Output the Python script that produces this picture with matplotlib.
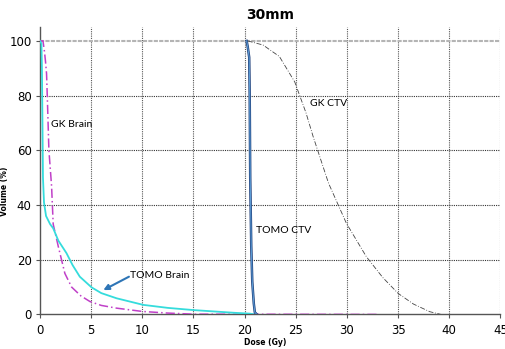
import matplotlib
matplotlib.use("Agg")
import matplotlib.pyplot as plt

# DVH data (dose in Gy, volume in %)
tomo_brain_dose = [0.0, 0.15, 0.2, 0.25, 0.3, 0.4, 0.6, 1.0, 1.3, 1.8, 2.6, 3.2, 3.9, 5.05, 6.0, 7.5, 10.1, 12.5, 15.0, 17.0, 19.0, 20.5, 21.0]
tomo_brain_vol = [100, 99, 90, 70, 50, 41, 36, 33, 31.5, 27, 22.4, 18, 13.8, 9.9, 7.8, 5.9, 3.5, 2.4, 1.6, 1.1, 0.6, 0.3, 0.0]

gk_brain_dose = [0.0, 0.3, 0.45, 0.55, 0.65, 0.72, 0.88, 1.14, 1.3, 1.8, 2.44, 3.1, 4.0, 4.9, 6.0, 7.5, 10.0, 12.5, 15.0, 33.0]
gk_brain_vol = [100, 100, 96, 92.4, 88, 80, 60, 47, 33, 24.8, 15, 10, 6.8, 4.7, 3.3, 2.3, 1.1, 0.5, 0.1, 0.0]

tomo_ctv_dose = [20.2, 20.3, 20.45, 20.5, 20.55, 20.65, 20.75, 20.9, 21.0, 21.2]
tomo_ctv_vol = [100, 98, 94, 80, 50, 25, 12, 4, 0.8, 0.0]

gk_ctv_dose = [20.3, 21.8, 23.4, 24.9, 26.0, 26.7, 28.2, 29.95, 31.9, 33.5, 35.0, 36.5, 38.1, 39.2]
gk_ctv_vol = [100, 98.5, 94.3, 85, 73.7, 65, 48, 33.3, 21.1, 13.5, 7.7, 3.8, 1.0, 0.0]

x_ticks = list(range(0, 50, 5))
y_ticks = list(range(0, 120, 20))

fig = plt.figure(figsize=(5.05, 3.49), dpi=100)
ax = fig.add_axes([0.079, 0.099, 0.912, 0.823])

# grid behind the curves
for xv in x_ticks[1:]:
    ax.axvline(xv, color="#555555", linestyle=(0, (1, 1)), linewidth=0.8, zorder=1)
for yv in y_ticks[1:-1]:
    ax.axhline(yv, color="#333333", linestyle=(0, (1, 1)), linewidth=0.8, zorder=1)
ax.axhline(100, color="#b4b4b4", linestyle=(0, (2, 0.6)), linewidth=1.5, zorder=1)

ax.plot(gk_ctv_dose, gk_ctv_vol, color="#444444", linestyle=(0, (6, 2, 1, 2)), linewidth=0.6, zorder=3)
ax.plot(gk_brain_dose, gk_brain_vol, color="#c040c8", linestyle=(0, (6, 2, 1, 2)), linewidth=1.1, zorder=3)
ax.plot(tomo_brain_dose, tomo_brain_vol, color="#35dcdc", linewidth=1.3, zorder=4)
ax.plot(tomo_ctv_dose, tomo_ctv_vol, color="#1f3f7a", linewidth=1.8, zorder=4)
ax.plot(tomo_ctv_dose, tomo_ctv_vol, color="#5b9bd5", linewidth=0.8, zorder=5)

lbl = dict(fontsize=7.5, va="center", ha="left", family="Lato")
ax.text(1.05, 69.3, "GK Brain", **lbl)
ax.text(26.4, 77, "GK CTV", **lbl)
ax.text(21.1, 30.6, "TOMO CTV", **lbl)
ax.text(8.8, 14.4, "TOMO Brain", **lbl)
ax.annotate("", xy=(6.2, 8.9), xytext=(8.7, 13.8),
            arrowprops=dict(arrowstyle="-|>", color="#2e75b6", lw=1.5,
                            mutation_scale=8, shrinkA=0, shrinkB=0))

ax.set_xlim(0, 45)
ax.set_ylim(0, 105)
ax.set_xticks(x_ticks)
ax.set_yticks(y_ticks)
ax.tick_params(axis="both", labelsize=8.5, length=3, color="#555555", pad=3)
ax.tick_params(axis="x", pad=4)
for side in ("top", "right"):
    ax.spines[side].set_visible(False)
for side in ("left", "bottom"):
    ax.spines[side].set_color("#555555")
    ax.spines[side].set_linewidth(1.0)

ax.set_title("30mm", fontsize=10, fontweight="bold", pad=6)
ax.set_xlabel("Dose (Gy)", fontsize=5.5, fontweight="bold")
ax.set_ylabel("Volume (%)", fontsize=5.5, fontweight="bold")
ax.xaxis.set_label_coords(0.49, -0.082)
ax.yaxis.set_label_coords(-0.066, 0.43)

fig.savefig("out.png", dpi=100)
